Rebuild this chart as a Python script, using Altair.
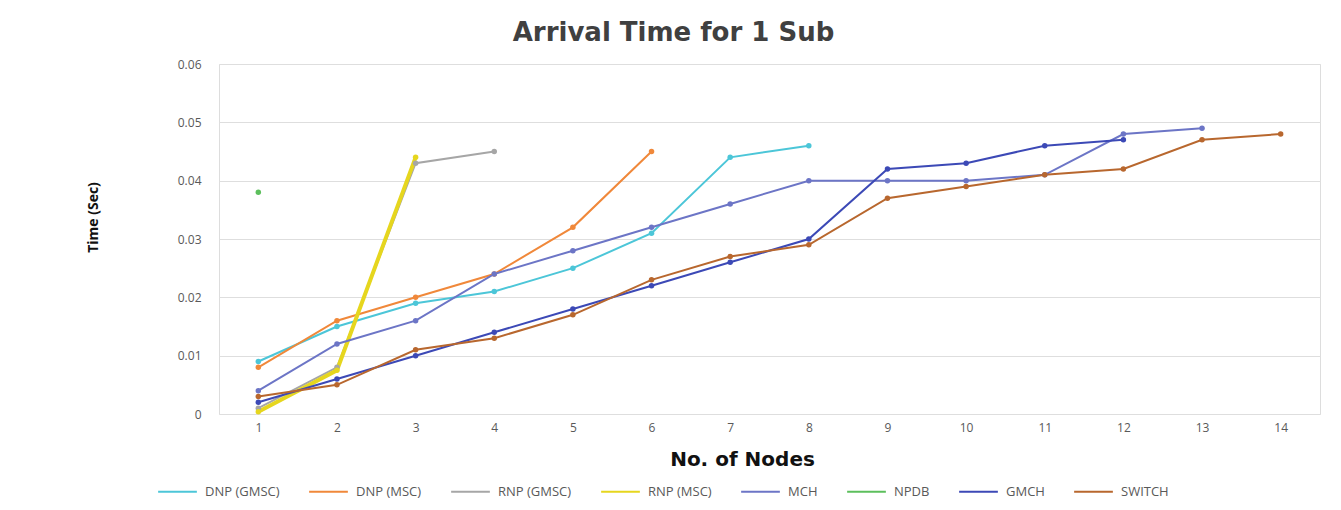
import altair as alt
import pandas as pd

nodes = list(range(1, 15))

series_names = ["DNP (GMSC)", "DNP (MSC)", "RNP (GMSC)", "RNP (MSC)", "MCH", "NPDB", "GMCH", "SWITCH"]
series_colors = ["#4cc6d8", "#f0883a", "#a6a6a6", "#e6d61e", "#6c75c6", "#5cbf5c", "#3c49b6", "#b8672e"]

dnp_gmsc = [0.009, 0.015, 0.019, 0.021, 0.025, 0.031, 0.044, 0.046]
dnp_msc = [0.008, 0.016, 0.020, 0.024, 0.032, 0.045]
rnp_gmsc = [0.001, 0.008, 0.043, 0.045]
rnp_msc = [0.0004, 0.0075, 0.044]
mch = [0.004, 0.012, 0.016, 0.024, 0.028, 0.032, 0.036, 0.040, 0.040, 0.040, 0.041, 0.048, 0.049]
npdb = [0.038]
gmch = [0.002, 0.006, 0.010, 0.014, 0.018, 0.022, 0.026, 0.030, 0.042, 0.043, 0.046, 0.047]
switch = [0.003, 0.005, 0.011, 0.013, 0.017, 0.023, 0.027, 0.029, 0.037, 0.039, 0.041, 0.042, 0.047, 0.048]

all_values = [dnp_gmsc, dnp_msc, rnp_gmsc, rnp_msc, mch, npdb, gmch, switch]

rows = []
for name, vals in zip(series_names, all_values):
    for n, v in zip(nodes, vals):
        rows.append({"Nodes": n, "Time": v, "Series": name})
df = pd.DataFrame(rows)

color = alt.Color(
    "Series:N",
    scale=alt.Scale(domain=series_names, range=series_colors),
    sort=series_names,
    legend=alt.Legend(
        title=None,
        orient="none",
        direction="horizontal",
        columns=8,
        legendX=-62,
        legendY=407,
        symbolType="stroke",
        symbolSize=1500,
        symbolStrokeWidth=2,
        labelFontSize=13,
        labelColor="#595959",
        labelFont="Open Sans",
        columnPadding=25,
        labelOffset=7,
    ),
)

x = alt.X(
    "Nodes:O",
    scale=alt.Scale(paddingOuter=0.5),
    axis=alt.Axis(
        title="No. of Nodes",
        titleFont="DejaVu Sans",
        titleFontSize=20,
        titleFontWeight="bold",
        titleColor="#111111",
        titleX=523,
        titleY=45,
        titleBaseline="middle",
        labelAngle=0,
        labelFontSize=12,
        labelColor="#595959",
        labelFont="Open Sans",
        labelPadding=8,
        ticks=False,
        domain=False,
        grid=False,
    ),
)

y = alt.Y(
    "Time:Q",
    scale=alt.Scale(domain=[0, 0.06]),
    axis=alt.Axis(
        title="Time (Sec)",
        titleFont="Open Sans",
        titleFontSize=14,
        titleFontWeight="bold",
        titleColor="#111111",
        titleX=-126,
        titleY=153,
        titleBaseline="middle",
        values=[0, 0.01, 0.02, 0.03, 0.04, 0.05, 0.06],
        format=".2~f",
        labelFontSize=12,
        labelColor="#595959",
        labelFont="Open Sans",
        labelPadding=18,
        ticks=False,
        domain=False,
        gridColor="#dedede",
        gridWidth=1,
    ),
)

chart = (
    alt.Chart(df)
    .mark_line(point=alt.OverlayMarkDef(size=30, filled=True))
    .encode(
        x=x,
        y=y,
        color=color,
        strokeWidth=alt.condition(alt.datum.Series == "RNP (MSC)", alt.value(4), alt.value(2)),
        order="Nodes:O",
    )
    .properties(
        width=1101,
        height=350,
        autosize=alt.AutoSizeParams(type="none"),
        padding={"left": 211, "top": 56, "right": 13, "bottom": 88},
        title=alt.TitleParams(
            "Arrival Time for 1 Sub",
            font="DejaVu Sans",
            fontSize=26,
            fontWeight="bold",
            color="#404040",
            anchor="middle",
            dx=-96,
            dy=-8,
        ),
    )
    .configure_view(stroke="transparent", strokeWidth=0)
    .configure_axisX(grid=False, domain=False)
    .configure_axis(domain=False)
    .configure(background="white")
)

chart.save("out.html", embed_options={"renderer": "svg", "actions": False})
